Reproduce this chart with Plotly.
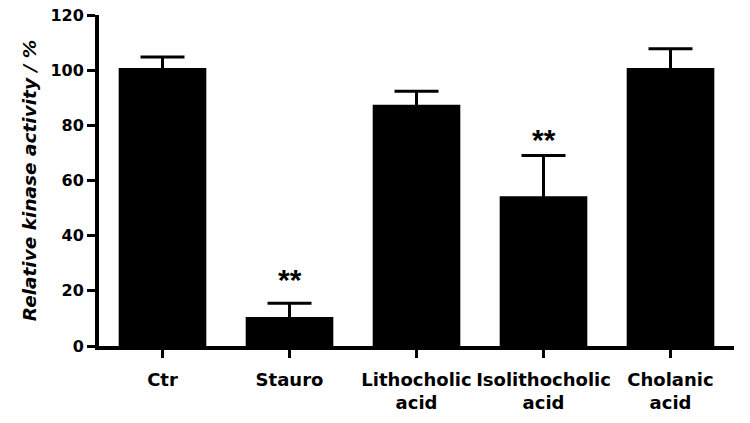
import plotly.graph_objects as go

categories = ["Ctr", "Stauro", "Lithocholic<br>acid", "Isolithocholic<br>acid", "Cholanic<br>acid"]
means = [100.8, 10.5, 87.5, 54.3, 100.8]
errors = [4.0, 5.0, 4.9, 14.8, 7.0]
sig_labels = ["", "**", "", "**", ""]
sig_y = [None, 24.0, None, 75.0, None]
y_ticks = [0, 20, 40, 60, 80, 100, 120]

FONT = "DejaVu Sans"

fig = go.Figure()
fig.add_trace(go.Bar(
    x=list(range(len(categories))),
    y=means,
    marker=dict(color="black", line=dict(width=0)),
    width=0.69,
    error_y=dict(type="data", symmetric=True, array=errors,
                 color="black", thickness=3, width=22),
))

for i, (lab, yy) in enumerate(zip(sig_labels, sig_y)):
    if lab:
        fig.add_annotation(x=i, y=yy, text=lab, showarrow=False,
                           font=dict(family="Liberation Sans", size=30, color="black", weight="bold"),
                           xref="x", yref="y", yanchor="middle")

fig.update_layout(
    width=750, height=423,
    margin=dict(l=99, r=16, t=15, b=77, autoexpand=False),
    plot_bgcolor="white", paper_bgcolor="white",
    showlegend=False,
    xaxis=dict(
        range=[-0.5, 4.5], tickmode="array", tickvals=list(range(len(categories))),
        ticktext=categories, showline=True, linecolor="black", linewidth=4,
        ticks="outside", ticklen=8, tickwidth=3, tickcolor="black",
        tickfont=dict(family=FONT, size=18, color="black", weight="bold"),
        ticklabelstandoff=6,
        showgrid=False, zeroline=False, automargin=False,
    ),
    yaxis=dict(
        range=[0, 120], tickmode="array", tickvals=y_ticks,
        showline=True, linecolor="black", linewidth=4,
        ticks="outside", ticklen=8, tickwidth=3, tickcolor="black",
        tickfont=dict(family=FONT, size=16, color="black", weight="bold"),
        showgrid=False, zeroline=False, automargin=True,
        title=dict(text="<i>Relative kinase activity / %</i>", standoff=10,
                   font=dict(family=FONT, size=18.5, color="black", weight="bold")),
    ),
)

fig.write_html("out.html", config={"displayModeBar": False},
               post_script="document.body.style.margin='0';")
